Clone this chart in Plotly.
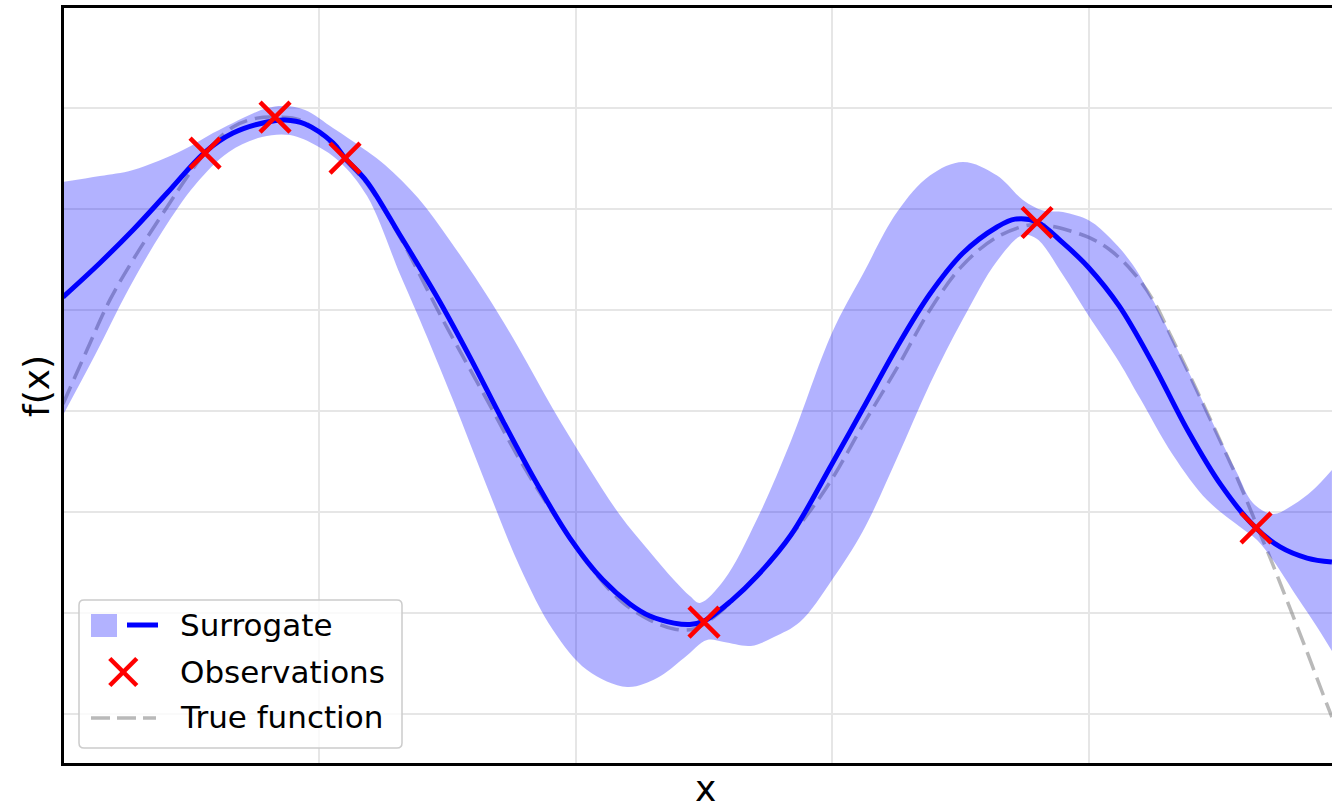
import plotly.graph_objects as go

# ---------------- data ----------------
mean_x = [0.000, 0.144, 0.273, 0.406, 0.554, 0.663, 0.796, 0.866, 0.944, 1.053,
          1.100, 1.186, 1.314, 1.385, 1.470, 1.587, 1.716, 1.849, 1.977, 2.106,
          2.211, 2.289, 2.383, 2.445, 2.500, 2.605, 2.707, 2.839, 2.999, 3.120,
          3.253, 3.381, 3.510, 3.643, 3.713, 3.799, 3.900, 3.998, 4.119, 4.251,
          4.388, 4.516, 4.641, 4.747, 4.852, 4.949]
mean_y = [0.564, 0.733, 0.896, 1.079, 1.282, 1.376, 1.431, 1.441, 1.421, 1.327,
          1.252, 1.134, 0.871, 0.723, 0.540, 0.267, -0.050, -0.361, -0.629, -0.837,
          -0.955, -1.015, -1.050, -1.057, -1.040, -0.941, -0.817, -0.614, -0.262, 0.012,
          0.317, 0.579, 0.782, 0.911, 0.950, 0.936, 0.832, 0.713, 0.520, 0.233,
          -0.099, -0.366, -0.564, -0.673, -0.728, -0.748]

upper_x = [0.000, 0.144, 0.273, 0.468, 0.585, 0.663, 0.796, 0.866, 0.944, 1.053,
           1.123, 1.256, 1.385, 1.513, 1.665, 1.782, 1.911, 2.044, 2.172, 2.289,
           2.383, 2.445, 2.484, 2.578, 2.707, 2.839, 2.999, 3.120, 3.253, 3.381,
           3.510, 3.643, 3.744, 3.822, 3.900, 4.005, 4.084, 4.173, 4.251, 4.396,
           4.501, 4.579, 4.641, 4.719, 4.797, 4.875, 4.949]
upper_y = [1.134, 1.163, 1.193, 1.292, 1.376, 1.426, 1.500, 1.510, 1.490, 1.401,
           1.342, 1.218, 1.054, 0.837, 0.550, 0.302, 0.010, -0.267, -0.515, -0.698,
           -0.837, -0.916, -0.950, -0.837, -0.535, -0.149, 0.386, 0.678, 0.985, 1.166,
           1.233, 1.166, 1.045, 0.993, 0.985, 0.941, 0.856, 0.723, 0.550, 0.178,
           -0.104, -0.307, -0.455, -0.510, -0.465, -0.391, -0.292]

lower_x = [0.000, 0.125, 0.254, 0.386, 0.515, 0.647, 0.776, 0.885, 0.991, 1.080,
           1.186, 1.314, 1.392, 1.521, 1.654, 1.782, 1.911, 2.044, 2.200, 2.317,
           2.422, 2.512, 2.578, 2.683, 2.773, 2.874, 2.999, 3.120, 3.253, 3.381,
           3.510, 3.643, 3.744, 3.799, 3.900, 3.998, 4.119, 4.200, 4.329, 4.462,
           4.591, 4.657, 4.719, 4.813, 4.891, 4.949]
lower_y = [-0.020, 0.277, 0.599, 0.886, 1.119, 1.282, 1.356, 1.366, 1.312, 1.233,
           1.064, 0.678, 0.450, 0.054, -0.376, -0.772, -1.084, -1.282, -1.366, -1.322,
           -1.223, -1.134, -1.144, -1.163, -1.119, -1.045, -0.837, -0.594, -0.233, 0.134,
           0.455, 0.743, 0.871, 0.851, 0.673, 0.475, 0.243, 0.064, -0.218, -0.441,
           -0.574, -0.639, -0.738, -0.921, -1.069, -1.188]

true_x = [0.000, 0.090, 0.183, 0.273, 0.406, 0.484, 0.554, 0.663, 0.757, 0.835,
          0.924, 1.053, 1.100, 1.186, 1.314, 1.482, 1.654, 1.782, 1.911, 2.044,
          2.172, 2.289, 2.383, 2.461, 2.539, 2.644, 2.773, 2.902, 2.999, 3.120,
          3.253, 3.381, 3.510, 3.643, 3.771, 3.849, 3.916, 4.005, 4.084, 4.173,
          4.251, 4.323, 4.396, 4.501, 4.591, 4.657, 4.719, 4.785, 4.852, 4.914,
          4.949]
true_y = [0.035, 0.292, 0.550, 0.748, 1.010, 1.158, 1.277, 1.406, 1.450, 1.455,
          1.441, 1.317, 1.243, 1.124, 0.861, 0.450, 0.054, -0.243, -0.505, -0.752,
          -0.936, -1.035, -1.079, -1.079, -1.020, -0.896, -0.718, -0.515, -0.337, -0.069,
          0.213, 0.500, 0.723, 0.861, 0.921, 0.916, 0.896, 0.857, 0.797, 0.688,
          0.550, 0.366, 0.173, -0.114, -0.366, -0.569, -0.762, -0.975, -1.193, -1.401,
          -1.515]

obs_x = [0.554, 0.827, 1.100, 2.500, 3.799, 4.653]
obs_y = [1.277, 1.455, 1.252, -1.045, 0.933, -0.579]

legend_labels = ["Surrogate", "Observations", "True function"]

# ---------------- styling ----------------
W, H = 1332, 810
ML, MR, MT, MB = 64, 0, 8, 47
BLUE = "#0000ff"
BAND = "rgba(0,0,255,0.3)"
TRUE_COL = "rgba(128,128,128,0.55)"
FONT = "DejaVu Sans"
SMOOTH = 1.0


def px(xp):
    return (xp - ML) / (W - ML - MR)


def py(yp):
    return (H - MB - yp) / (H - MT - MB)


fig = go.Figure()

fig.add_trace(go.Scatter(x=true_x, y=true_y, mode="lines",
                         line=dict(color=TRUE_COL, width=3.5, dash="19px,8px",
                                   shape="spline", smoothing=SMOOTH),
                         showlegend=False, hoverinfo="skip"))
fig.add_trace(go.Scatter(x=lower_x, y=lower_y, mode="lines",
                         line=dict(width=0, shape="spline", smoothing=SMOOTH),
                         showlegend=False, hoverinfo="skip"))
fig.add_trace(go.Scatter(x=upper_x, y=upper_y, mode="lines", fill="tonexty",
                         fillcolor=BAND,
                         line=dict(width=0, shape="spline", smoothing=SMOOTH),
                         showlegend=False, hoverinfo="skip"))
fig.add_trace(go.Scatter(x=mean_x, y=mean_y, mode="lines",
                         line=dict(color=BLUE, width=5, shape="spline", smoothing=SMOOTH),
                         showlegend=False))
fig.add_trace(go.Scatter(x=obs_x, y=obs_y, mode="markers",
                         marker=dict(symbol="x-thin", size=30,
                                     line=dict(color="red", width=4.5)),
                         showlegend=False, cliponaxis=False))

# ---------------- manual legend (matplotlib-like) ----------------
shapes = []
x0, x1, y0, y1, r = 79, 402, 600, 748, 5
rx = r / (W - ML - MR)
ry = r / (H - MT - MB)
X0, X1, Y0, Y1 = px(x0), px(x1), py(y1), py(y0)
path = (f"M {X0+rx},{Y0} L {X1-rx},{Y0} Q {X1},{Y0} {X1},{Y0+ry} "
        f"L {X1},{Y1-ry} Q {X1},{Y1} {X1-rx},{Y1} L {X0+rx},{Y1} "
        f"Q {X0},{Y1} {X0},{Y1-ry} L {X0},{Y0+ry} Q {X0},{Y0} {X0+rx},{Y0} Z")
shapes.append(dict(type="path", path=path, xref="paper", yref="paper",
                   fillcolor="rgba(255,255,255,0.8)",
                   line=dict(color="#cccccc", width=1.5), layer="above"))
shapes.append(dict(type="rect", xref="paper", yref="paper",
                   x0=px(91), x1=px(117), y0=py(637), y1=py(614),
                   fillcolor=BAND, line=dict(width=0), layer="above"))
shapes.append(dict(type="line", xref="paper", yref="paper",
                   x0=px(127), x1=px(158), y0=py(625), y1=py(625),
                   line=dict(color=BLUE, width=5), layer="above"))
cx, cy, h = 123.3, 672, 13.5
shapes.append(dict(type="line", xref="paper", yref="paper",
                   x0=px(cx - h), x1=px(cx + h), y0=py(cy - h), y1=py(cy + h),
                   line=dict(color="red", width=4.5), layer="above"))
shapes.append(dict(type="line", xref="paper", yref="paper",
                   x0=px(cx - h), x1=px(cx + h), y0=py(cy + h), y1=py(cy - h),
                   line=dict(color="red", width=4.5), layer="above"))
shapes.append(dict(type="line", xref="paper", yref="paper",
                   x0=px(91), x1=px(156), y0=py(718), y1=py(718),
                   line=dict(color=TRUE_COL, width=3.5, dash="19px,7px"), layer="above"))

annotations = []
for lab, yy in zip(legend_labels, [625, 672, 717]):
    annotations.append(dict(text=lab, xref="paper", yref="paper", x=px(178), y=py(yy),
                            xanchor="left", yanchor="middle", showarrow=False,
                            font=dict(family=FONT, size=31, color="black")))
annotations.append(dict(text="x", xref="paper", yref="paper", x=px(705), y=py(788.5),
                        xanchor="center", yanchor="middle", showarrow=False,
                        font=dict(family=FONT, size=36, color="black")))
annotations.append(dict(text="f(x)", xref="paper", yref="paper", x=px(36), y=py(386),
                        xanchor="center", yanchor="middle", showarrow=False, textangle=-90,
                        font=dict(family=FONT, size=36, color="black")))

fig.update_layout(
    width=W, height=H,
    margin=dict(l=ML, r=MR, t=MT, b=MB, pad=0),
    paper_bgcolor="white", plot_bgcolor="white",
    showlegend=False,
    shapes=shapes, annotations=annotations,
    font=dict(family=FONT),
    xaxis=dict(range=[(ML - 63) / 256.4, (W - MR - 63) / 256.4],
               tick0=0, dtick=1, showgrid=True, gridcolor="#e6e6e6", gridwidth=1.5,
               zeroline=False, showticklabels=False, ticks="",
               showline=True, linecolor="black", linewidth=3, mirror=True),
    yaxis=dict(range=[(411 - (H - MB)) / 202, (411 - MT) / 202],
               tick0=0, dtick=0.5, showgrid=True, gridcolor="#e6e6e6", gridwidth=1.5,
               zeroline=False, showticklabels=False, ticks="",
               showline=True, linecolor="black", linewidth=3, mirror=False),
)

fig.write_html("out.html",
               config={"displayModeBar": False},
               post_script="document.body.style.margin='0px';"
                           "document.body.style.overflow='hidden';")
